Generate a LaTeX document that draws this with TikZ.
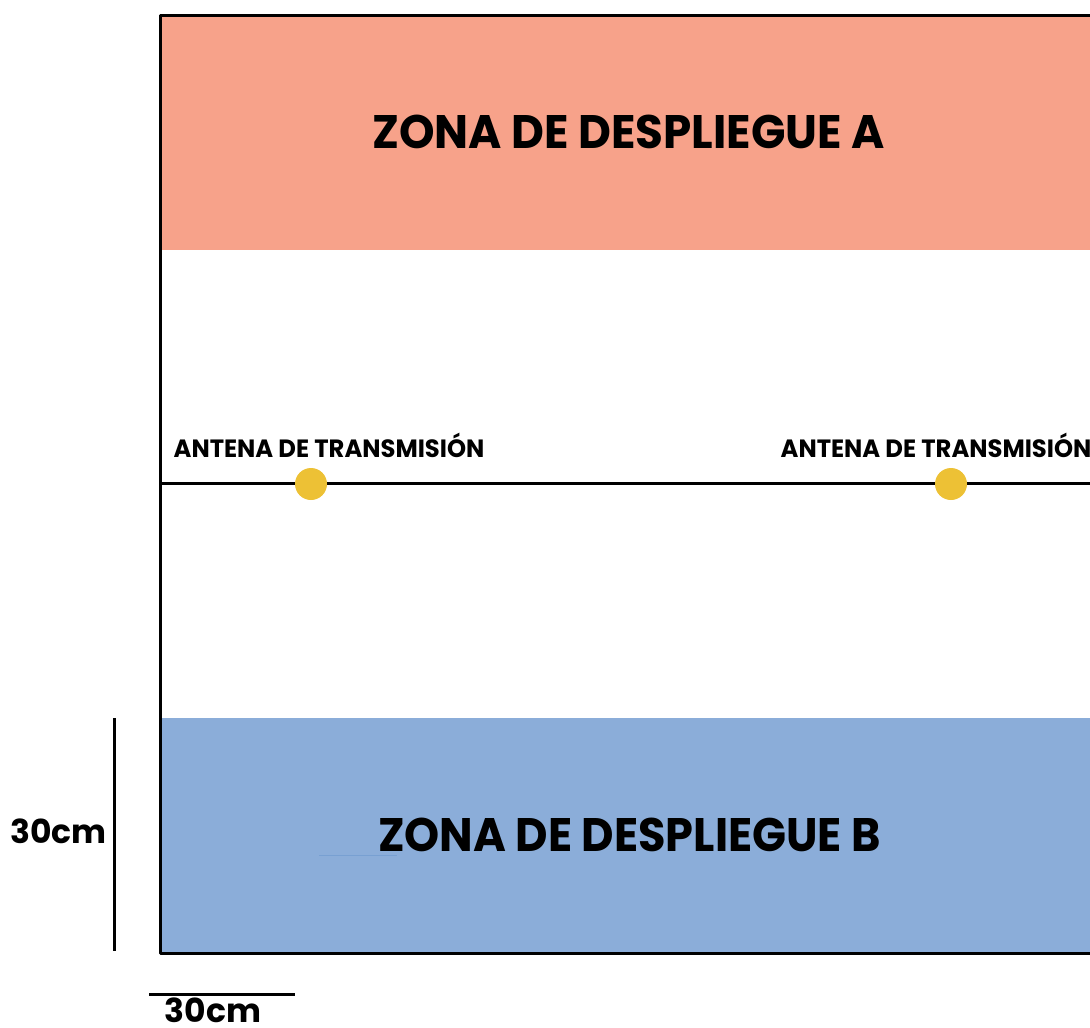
\documentclass[tikz,border=0pt]{standalone}
\usepackage{fontspec}
\setmainfont{Poppins}
\definecolor{zonaA}{RGB}{247,162,138}
\definecolor{zonaB}{RGB}{139,173,217}
\definecolor{antena}{RGB}{237,193,53}
\definecolor{faint}{RGB}{120,160,210}
\begin{document}
\begin{tikzpicture}[x=1pt,y=-1pt,
  frame/.style={line width=3pt,black},
  bigtxt/.style={font=\fontsize{47}{47}\selectfont\bfseries,inner sep=0pt,anchor=base},
  anttxt/.style={font=\fontsize{25}{25}\selectfont\bfseries,inner sep=0pt,anchor=base},
  scaletxt/.style={font=\fontsize{33}{33}\selectfont\bfseries,inner sep=0pt,anchor=base,text depth=0pt},
  antdot/.style={circle,fill=antena,minimum size=32pt,inner sep=0pt}]
\useasboundingbox (0,0) rectangle (1090,1028);
% zones
\fill[zonaA] (160,15) rectangle (1090,250);
\fill[zonaB] (160,718) rectangle (1090,953);
% frame
\draw[frame,line cap=round,line join=round] (1092,15) -- (160,15) -- (160,953) -- (1092,953);
% middle line
\coordinate (mL) at (160,483.5);
\coordinate (mR) at (1092,483.5);
\draw[line width=2.6pt] (mL) -- (mR);
% antennas
\node[antdot] (ant1) at (311,484) {};
\node[antdot] (ant2) at (951,484) {};
\node[anttxt] (lab1) at (329,457) {\scalebox{0.97}[1]{ANTENA DE TRANSMISIÓN}};
\node[anttxt] (lab2) at (936,457) {\scalebox{0.97}[1]{ANTENA DE TRANSMISIÓN}};
% zone titles
\node[bigtxt] (tA) at (628.5,148) {\scalebox{0.962}[1]{ZONA DE DESPLIEGUE A}};
\node[bigtxt] (tB) at (629.5,851) {\scalebox{0.95}[1]{ZONA DE DESPLIEGUE B}};
\coordinate (fl1) at (319,855);
\coordinate (fl2) at (397,855);
\draw[faint,line width=0.6pt] (fl1) -- (fl2);
% scale bars
\coordinate (v1) at (114,718);
\coordinate (v2) at (114,951);
\draw[line width=3pt] (v1) -- (v2);
\node[scaletxt] (s1) at (58.5,843) {30cm};
\coordinate (h1) at (149,994.5);
\coordinate (h2) at (295,994.5);
\draw[line width=3pt] (h1) -- (h2);
\node[scaletxt] (s2) at (213,1022) {30cm};
\end{tikzpicture}
\end{document}
